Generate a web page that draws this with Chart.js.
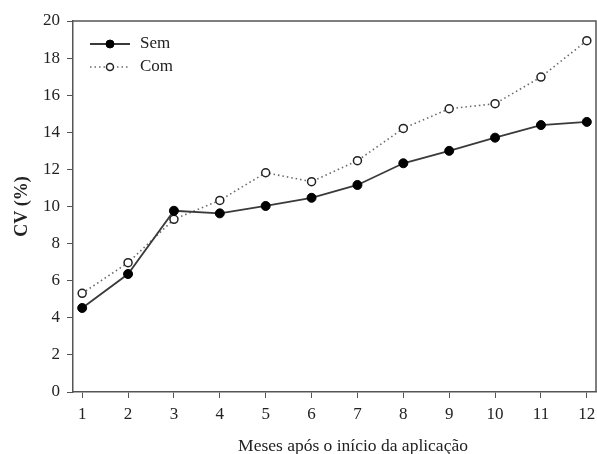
<!DOCTYPE html>
<html>
<head>
<meta charset="utf-8">
<script src="https://cdn.jsdelivr.net/npm/chart.js@4"></script>
<style>
  html, body { margin: 0; padding: 0; background: #fff; }
  #wrap { width: 597px; height: 454px; }
</style>
</head>
<body>
<div id="wrap"><canvas id="chart"></canvas></div>
<script>
const months = [1, 2, 3, 4, 5, 6, 7, 8, 9, 10, 11, 12];
const semValues = [4.53, 6.36, 9.77, 9.63, 10.03, 10.47, 11.16, 12.33, 13.0, 13.71, 14.39, 14.56];
const comValues = [5.32, 6.97, 9.31, 10.33, 11.82, 11.34, 12.47, 14.21, 15.27, 15.54, 16.98, 18.94];
const yTicks = [0, 2, 4, 6, 8, 10, 12, 14, 16, 18, 20];
const xTitle = 'Meses após o início da aplicação';

const serif = 'Liberation Serif';

// frame on top and right, legend inside the plot, x title (a bit right of centre like the original)
const framePlugin = {
  id: 'frame',
  afterDraw(chart) {
    const { ctx, chartArea: a } = chart;
    ctx.save();
    ctx.strokeStyle = '#555';
    ctx.lineWidth = 1.5;
    ctx.beginPath();
    ctx.moveTo(a.left, a.top);
    ctx.lineTo(a.right, a.top);
    ctx.lineTo(a.right, a.bottom);
    ctx.stroke();

    chart.data.datasets.forEach((ds, i) => {
      const y = a.top + 23 + i * 23;
      const x0 = a.left + 17, x1 = a.left + 57, xm = (x0 + x1) / 2;
      ctx.strokeStyle = ds.borderColor;
      ctx.lineWidth = ds.borderWidth;
      ctx.setLineDash(ds.borderDash || []);
      ctx.beginPath();
      ctx.moveTo(x0, y);
      ctx.lineTo(x1, y);
      ctx.stroke();
      ctx.setLineDash([]);
      ctx.beginPath();
      ctx.arc(xm, y, ds.pointRadius - 0.5, 0, Math.PI * 2);
      ctx.fillStyle = ds.pointBackgroundColor;
      ctx.fill();
      ctx.lineWidth = ds.pointBorderWidth;
      ctx.strokeStyle = ds.pointBorderColor;
      ctx.stroke();
      ctx.fillStyle = '#222';
      ctx.font = '17px "' + serif + '"';
      ctx.textBaseline = 'middle';
      ctx.textAlign = 'left';
      ctx.fillText(ds.label, x1 + 10, y);
    });

    ctx.fillStyle = '#222';
    ctx.font = '17.5px "' + serif + '"';
    ctx.textAlign = 'center';
    ctx.textBaseline = 'middle';
    ctx.fillText(xTitle, 353, 446);
    ctx.restore();
  }
};

new Chart(document.getElementById('chart'), {
  type: 'line',
  data: {
    datasets: [
      {
        label: 'Sem',
        data: months.map((m, i) => ({ x: m, y: semValues[i] })),
        borderColor: '#3a3a3a',
        borderWidth: 1.8,
        pointRadius: 4.5,
        pointBackgroundColor: '#000',
        pointBorderColor: '#000',
        pointBorderWidth: 1,
        tension: 0,
      },
      {
        label: 'Com',
        data: months.map((m, i) => ({ x: m, y: comValues[i] })),
        borderColor: '#6a6a6a',
        borderWidth: 1.6,
        borderDash: [1.5, 3],
        pointRadius: 4,
        pointBackgroundColor: '#fff',
        pointBorderColor: '#222',
        pointBorderWidth: 1.5,
        tension: 0,
      },
    ],
  },
  options: {
    responsive: true,
    maintainAspectRatio: false,
    animation: false,
    layout: { autoPadding: false, padding: { top: 21, right: 1, left: 0, bottom: 0 } },
    plugins: {
      legend: { display: false },
      tooltip: { enabled: false },
    },
    scales: {
      x: {
        type: 'linear',
        min: 0.8,
        max: 12.2,
        afterBuildTicks: scale => { scale.ticks = months.map(v => ({ value: v })); },
        afterFit: scale => {
          scale.height = 62;
          scale.paddingLeft = 0;
          scale.paddingRight = 0;
        },
        grid: { drawOnChartArea: false, drawTicks: true, tickLength: 6, color: '#555' },
        border: { display: true, color: '#555', width: 1.5 },
        ticks: { color: '#222', font: { family: serif, size: 17 }, padding: 6 },
      },
      y: {
        min: 0,
        max: 20,
        afterBuildTicks: scale => { scale.ticks = yTicks.map(v => ({ value: v })); },
        afterFit: scale => {
          scale.width = 73;
          scale.paddingTop = 0;
          scale.paddingBottom = 0;
        },
        grid: { drawOnChartArea: false, drawTicks: true, tickLength: 6, color: '#555' },
        border: { display: true, color: '#555', width: 1.5 },
        ticks: { color: '#222', font: { family: serif, size: 17 }, padding: 7 },
        title: {
          display: true,
          text: 'CV (%)',
          color: '#222',
          font: { family: serif, size: 18, weight: 'bold' },
          padding: { top: 12, bottom: 0 },
        },
      },
    },
  },
  plugins: [framePlugin],
});
</script>
</body>
</html>
